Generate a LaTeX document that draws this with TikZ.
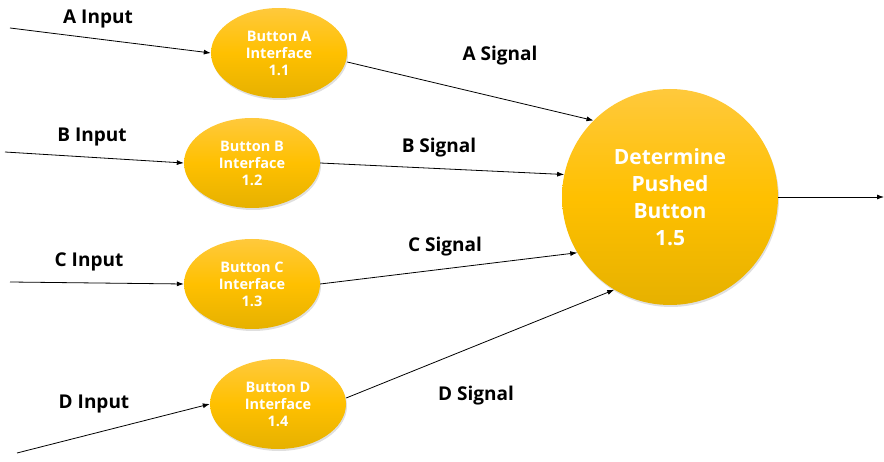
\documentclass[tikz,border=0pt]{standalone}
\usepackage{fontspec}
\setmainfont{Open Sans}
\usetikzlibrary{arrows.meta,shadows,shapes.geometric}
\definecolor{ytop}{HTML}{FFC93C}
\definecolor{ymid}{HTML}{FFC000}
\definecolor{ybot}{HTML}{E6B100}
\tikzset{
  proc/.style={ellipse,minimum width=136pt,minimum height=90pt,inner sep=0pt,
    top color=ytop,bottom color=ybot,middle color=ymid,draw=none,
    drop shadow={shadow xshift=1pt,shadow yshift=-2pt,opacity=0.25},
    text=white,font=\fontsize{14.5}{17}\selectfont\bfseries,align=center},
  bigproc/.style={circle,minimum size=216pt,inner sep=0pt,
    top color=ytop,bottom color=ybot,middle color=ymid,draw=none,
    drop shadow={shadow xshift=1pt,shadow yshift=-2pt,opacity=0.25},
    text=white,font=\fontsize{21}{27}\selectfont\bfseries,align=center},
  flow/.style={-{Latex[length=7pt,width=5pt]},line width=0.8pt,black},
  lbl/.style={font=\fontsize{19}{22}\selectfont\bfseries,text=black,inner sep=0pt}
}
\begin{document}
\begin{tikzpicture}[x=1pt,y=-1pt]
\useasboundingbox (0,0) rectangle (884,462);
\node[proc] (a) at (279,53) {Button A\\Interface\\1.1};
\node[proc] (b) at (252,163) {Button B\\Interface\\1.2};
\node[proc] (c) at (252,284) {Button C\\Interface\\1.3};
\node[proc] (d) at (278,404) {Button D\\Interface\\1.4};
\node[bigproc] (e) at (670,197) {Determine\\Pushed\\Button\\1.5};
\coordinate (ai) at (10,28);
\coordinate (bi) at (5,152);
\coordinate (ci) at (10,282);
\coordinate (di) at (17,453);
\coordinate (out) at (884,197);
\draw[flow] (ai) -- (a.west);
\draw[flow] (bi) -- (b.west);
\draw[flow] (ci) -- (c.west);
\draw[flow] (di) -- (d.west);
\draw[flow] (a.east) ++(0,9) coordinate (as) (as) -- (e.135);
\draw[flow] (b.east) -- (e.168);
\draw[flow] (c.east) -- (e.211);
\draw[flow] (d.east) ++(0,-6) coordinate (ds) (ds) -- (e.239);
\draw[flow] (e.east) -- (out);
\node[lbl] (la) at (98,19) {A Input};
\node[lbl] (lb) at (92,137) {B Input};
\node[lbl] (lc) at (89,262) {C Input};
\node[lbl] (ld) at (94,404) {D Input};
\node[lbl] (sa) at (500,56) {A Signal};
\node[lbl] (sb) at (439,148) {B Signal};
\node[lbl] (sc) at (445,247) {C Signal};
\node[lbl] (sd) at (476,396) {D Signal};
\end{tikzpicture}
\end{document}
